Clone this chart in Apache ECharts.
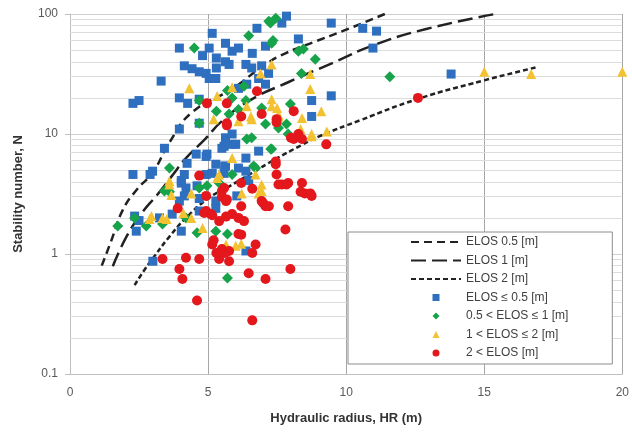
<!DOCTYPE html>
<html>
<head>
<meta charset="utf-8">
<script src="https://cdn.jsdelivr.net/npm/echarts@6/dist/echarts.min.js"></script>
<style>
  html, body { margin: 0; padding: 0; background: #fff; }
  #chart { width: 632px; height: 434px; }
</style>
</head>
<body>
<div id="chart"></div>
<script>
// design curves, [HR, N]
var elos05Curve = [[1.15,0.8],[1.5,1.3],[1.9,2.3],[2.4,3.4],[3.0,4.8],[3.6,8.5],[4.4,15],[5.9,24],[7.0,37],[7.8,47],[8.8,58],[10.0,74],[11.4,100]];
var elos1Curve = [[1.55,0.79],[2.05,1.4],[2.6,2.2],[3.2,3.2],[3.7,4.5],[4.2,6.3],[4.9,9.1],[5.5,12.8],[6.5,19],[7.9,27],[9.5,39],[11.0,55],[12.9,75],[15.4,100]];
var elos2Curve = [[2.34,0.55],[2.7,0.74],[3.06,0.96],[3.55,1.35],[4.2,2.0],[5.0,2.9],[5.8,3.7],[6.5,4.6],[7.45,6.2],[8.35,8.0],[9.0,9.5],[10.5,13],[12.6,19.6],[15.0,28],[16.9,36]];

// case histories, [HR, N]
var elosLe05 = [[7.84,96],[7.67,84],[6.77,76],[5.15,69],[3.96,52],[5.04,52],[5.63,57],[5.87,49],[6.1,52],[6.6,47],[7.08,54],[8.27,62],[4.8,45],[5.3,43],[5.63,40],[4.14,37],[4.42,35],[4.68,33],[4.93,32],[5.3,35.5],[5.76,38],[6.37,38],[6.58,35.5],[6.94,37],[7.19,32],[5.04,29],[5.28,29],[6.83,29],[7.08,26],[3.3,27.6],[3.96,20],[4.26,18],[2.28,18],[2.5,19],[4.68,19.5],[6.4,26],[6.1,24],[8.75,19],[8.75,14],[3.96,11],[5.63,9.3],[5.87,10],[5.5,7.6],[5.87,8.2],[3.42,7.6],[4.57,6.8],[4.93,6.5],[6.37,6.3],[6.83,7.2],[5.28,5.6],[5.63,5.4],[2.99,4.9],[4.03,4.1],[4.2,3.55],[4.93,4.6],[6.1,5.2],[6.47,4.1],[3.96,2.76],[4.68,2.9],[5.28,2.76],[2.5,1.9],[2.4,1.55],[3.24,2.0],[4.03,1.55],[3.7,2.15],[3.0,0.87],[6.37,1.06],[4.68,2.28],[5.28,2.4],[9.46,84],[10.6,76],[11.1,72],[10.97,52],[13.8,31.6],[9.46,20.8],[5.58,7.9],[6.0,8.2],[4.96,6.8],[5.6,5.4],[5.58,4.7],[5.15,4.7],[6.37,4.9],[6.04,3.05],[4.68,12.3],[2.28,4.6],[2.9,4.6],[4.14,4.6],[4.03,3.9],[4.14,3.05],[4.6,3.7],[4.24,5.7],[2.34,2.07]];
var elos05to1 = [[7.26,84],[7.45,92],[6.47,66],[4.5,52],[7.3,57],[8.27,49],[8.88,42],[8.38,32],[5.87,20],[6.37,19],[4.68,19],[6.94,16.5],[7.98,17.8],[4.68,12.3],[5.76,14.7],[7.08,12.1],[7.55,11.2],[6.58,9.3],[7.9,10],[7.3,7.5],[6.72,5.2],[3.6,5.2],[3.42,3.35],[5.87,4.6],[4.68,3.55],[5.4,3.9],[11.58,30],[1.73,1.71],[2.34,2.0],[2.76,1.71],[3.35,1.78],[4.6,1.5],[5.28,1.55],[5.7,1.47],[5.7,0.63],[4.2,2.0],[7.2,87],[7.35,60],[6.3,25],[5.7,23],[8.45,51],[6.4,9.1],[7.27,7.5],[6.65,5.4],[4.96,3.7],[7.84,12.1],[3.6,3.3],[6.1,16],[5.3,15.5]];
var elos1to2 = [[7.3,38],[6.9,32],[8.7,31.6],[4.32,24],[5.33,20.7],[8.7,23.7],[7.3,19.5],[7.5,16.5],[6.1,12.8],[6.58,13.3],[7.55,14],[8.75,10],[8.4,13.6],[5.4,4.6],[3.6,4.05],[5.87,6.3],[6.72,4.6],[6.94,3.35],[4.39,3.2],[15.0,33],[16.7,31.6],[20.0,33],[9.1,15.5],[9.3,10.5],[2.88,1.96],[3.5,1.96],[4.39,2.0],[4.8,1.65],[6.0,1.17],[6.2,1.22],[5.65,1.2],[4.1,2.2],[5.87,24.5],[6.4,17],[7.3,17],[7.55,14.5],[6.55,14],[5.2,13.3],[8.35,11],[8.75,9.6],[5.33,4.3],[6.94,3.8],[6.83,3.2],[6.22,3.2],[3.6,3.8],[3.67,3.1],[2.95,2.07],[3.35,2.0]];
var elosGt2 = [[6.77,22.7],[4.96,18],[5.68,18],[6.2,14],[6.94,14.7],[7.48,13.3],[8.1,15.5],[5.68,12.3],[8.0,9.3],[8.27,10],[7.45,5.9],[7.48,4.6],[4.68,4.5],[6.2,3.9],[6.6,3.5],[7.67,3.8],[7.9,3.9],[8.4,3.9],[8.5,3.2],[8.75,3.05],[3.9,2.4],[4.93,2.28],[5.5,3.35],[5.65,2.76],[6.94,2.76],[7.08,2.5],[7.9,2.5],[12.6,20],[9.28,8.2],[8.4,9.1],[5.1,2.15],[5.4,1.88],[5.87,2.15],[6.3,1.88],[6.1,1.47],[5.15,1.2],[5.5,1.1],[5.76,1.06],[5.4,0.91],[5.76,0.87],[6.6,1.02],[6.72,1.2],[7.8,1.6],[3.35,0.91],[4.2,0.93],[4.68,0.91],[3.96,0.75],[4.07,0.62],[4.6,0.41],[6.47,0.69],[7.08,0.62],[7.98,0.75],[6.6,0.28],[6.2,1.45],[5.2,1.3],[5.6,1.02],[5.3,1.02],[5.68,11.8],[7.48,12.5],[8.1,9.1],[7.45,5.6],[7.55,3.8],[7.84,3.8],[8.7,3.2],[8.35,3.3],[5.58,3.55],[5.5,3.0],[5.68,2.85],[7.0,2.65],[7.2,2.5],[6.2,2.5],[4.86,2.2],[5.15,2.1],[5.65,2.05],[6.1,2.0],[4.93,3.05]];

// minor log gridlines
var minorTicks = [0.2,0.3,0.4,0.5,0.6,0.7,0.8,0.9,2,3,4,5,6,7,8,9,20,30,40,50,60,70,80,90];
var seriesNames = ['ELOS 0.5 [m]', 'ELOS 1 [m]', 'ELOS 2 [m]', 'ELOS ≤ 0.5 [m]', '0.5 < ELOS ≤ 1 [m]', '1 < ELOS ≤ 2 [m]', '2 < ELOS [m]'];

var font = 'Liberation Sans';
var chart = echarts.init(document.getElementById('chart'));

function curve(name, data, dash) {
  return {
    name: name,
    type: 'line',
    smooth: true,
    symbol: 'none',
    data: data,
    lineStyle: { color: '#222', width: 2.5, type: dash },
    itemStyle: { color: '#222' },
    z: 2
  };
}

function points(name, data, symbol, size, color) {
  return {
    name: name,
    type: 'scatter',
    symbol: symbol,
    symbolSize: size,
    data: data,
    itemStyle: { color: color, opacity: 1 },
    z: 3
  };
}

var first = curve(seriesNames[0], elos05Curve, [8, 5]);
first.markLine = {
  silent: true,
  z: 1,
  symbol: 'none',
  label: { show: false },
  lineStyle: { color: '#dcdcdc', width: 1, type: 'solid' },
  data: minorTicks.map(function (v) { return { yAxis: v }; })
};

// legend icons: path icons keep their aspect, so markers stay small and square
var markerIcons = [
  'path://M0,0L10,0L10,10L0,10Z',
  'path://M5,0L10,5L5,10L0,5Z',
  'path://M5,0L10,10L0,10Z',
  'circle'
];
var legendData = seriesNames.map(function (n, i) {
  if (i < 3) return { name: n, itemStyle: { opacity: 0 } };
  return { name: n, icon: markerIcons[i - 3] };
});

var option = {
  animation: false,
  textStyle: { fontFamily: font },
  grid: { left: 70, right: 6, top: 14, bottom: 60 },
  legend: {
    orient: 'vertical',
    left: 348,
    top: 232,
    padding: [4, 44, 5, 62],
    itemWidth: 50,
    itemHeight: 7,
    itemGap: 6.5,
    symbolKeepAspect: true,
    borderColor: '#8c8c8c',
    borderWidth: 1,
    backgroundColor: '#fff',
    textStyle: { fontSize: 12, color: '#404040', fontFamily: font },
    data: legendData
  },
  xAxis: {
    type: 'value',
    min: 0,
    max: 20,
    interval: 5,
    name: 'Hydraulic radius, HR (m)',
    nameLocation: 'middle',
    nameGap: 38,
    nameTextStyle: { fontSize: 13, fontWeight: 'bold', color: '#333' },
    axisLine: { show: true, lineStyle: { color: '#bfbfbf' } },
    axisTick: { show: false },
    axisLabel: { fontSize: 12, color: '#595959', margin: 13 },
    splitLine: { show: true, lineStyle: { color: '#a6a6a6', width: 1 } }
  },
  yAxis: {
    type: 'log',
    logBase: 10,
    min: 0.1,
    max: 100,
    name: 'Stability number, N',
    nameLocation: 'middle',
    nameGap: 45,
    nameTextStyle: { fontSize: 13, fontWeight: 'bold', color: '#333' },
    axisLine: { show: true, lineStyle: { color: '#bfbfbf' } },
    axisTick: { show: true, length: 5, lineStyle: { color: '#bfbfbf' } },
    axisLabel: { fontSize: 12, color: '#595959', margin: 12 },
    splitLine: { show: true, lineStyle: { color: '#d0d0d0', width: 1 } }
  },
  series: [
    first,
    curve(seriesNames[1], elos1Curve, [15, 6]),
    curve(seriesNames[2], elos2Curve, [5, 3]),
    points(seriesNames[3], elosLe05, 'rect', 9, '#2f6fbf'),
    points(seriesNames[4], elos05to1, 'diamond', 11, '#17a34a'),
    points(seriesNames[5], elos1to2, 'triangle', 10, '#f2c232'),
    points(seriesNames[6], elosGt2, 'circle', 10, '#e3171c')
  ]
};

chart.setOption(option);
</script>
</body>
</html>
